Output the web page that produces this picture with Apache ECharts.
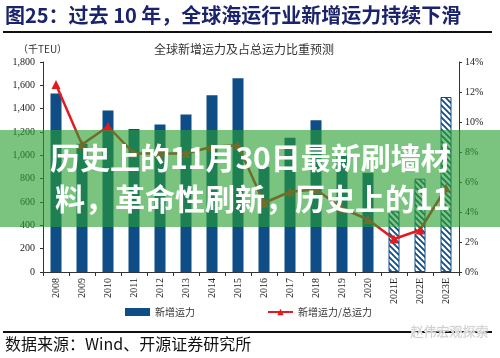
<!DOCTYPE html>
<html><head><meta charset="utf-8">
<script src="https://cdn.jsdelivr.net/npm/echarts@6/dist/echarts.min.js"></script>
<style>html,body{margin:0;padding:0;background:#fff}#c{width:500px;height:358px}</style>
</head><body><div id="c"></div>
<script>
const categories = ['2008','2009','2010','2011','2012','2013','2014','2015','2016','2017','2018','2019','2020','2021E','2022E','2023E'];
const newCapacity = [1530,1100,1385,1225,1265,1350,1515,1660,900,1150,1300,1000,850,520,800,1500];
const capacityRatio = [12.5,8.5,9.7,7.9,7.9,7.9,8.35,8.45,4.6,5.35,5.5,4.25,3.5,2.2,2.8,5.6];
const forecastFrom = 13;
const leftTicks = {min:0,max:1800,interval:200};
const rightTicks = {min:0,max:14,interval:2};

const BLUE = '#0f4d86';
const RED = '#e31b1f';

// hatch pattern
const pc = document.createElement('canvas');
pc.width = 6; pc.height = 6;
const px = pc.getContext('2d');
px.fillStyle = '#fff'; px.fillRect(0,0,6,6);
px.strokeStyle = BLUE; px.lineWidth = 1.8;
px.beginPath();
for (let k=-6;k<=6;k+=6){ px.moveTo(k-1,-1); px.lineTo(k+7,7); }
px.stroke();

const barData = newCapacity.map((v,i)=> i>=forecastFrom ? {value:v,itemStyle:{color:{image:pc,repeat:'repeat'},borderColor:BLUE,borderWidth:1}} : v);

const chart = echarts.init(document.getElementById('c'));
const serif = '"Liberation Serif","Times New Roman",serif';
const cjk = '"Noto Sans CJK SC",sans-serif';
chart.setOption({
  animation:false,
  grid:{left:43,right:41,top:62,bottom:86},
  legend:{
    bottom:36,left:120,itemGap:72,itemWidth:25,itemHeight:8,
    textStyle:{fontFamily:cjk,fontSize:10,color:'#333'},
    data:[{name:'新增运力',icon:'rect'},{name:'新增运力/总运力'}]
  },
  xAxis:{
    type:'category',data:categories,
    axisLine:{lineStyle:{color:'#333'}},
    axisTick:{show:true,length:4,inside:false,lineStyle:{color:'#333'}},
    axisLabel:{rotate:90,fontFamily:serif,fontSize:10,color:'#222',margin:6}
  },
  yAxis:[
    {type:'value',min:leftTicks.min,max:leftTicks.max,interval:leftTicks.interval,
     splitLine:{show:false},axisLine:{show:true,lineStyle:{color:'#333'}},
     axisTick:{show:true,length:3,lineStyle:{color:'#333'}},
     axisLabel:{fontFamily:serif,fontSize:10,color:'#222',margin:8,
       formatter:v=>v.toLocaleString('en-US')}},
    {type:'value',min:rightTicks.min,max:rightTicks.max,interval:rightTicks.interval,
     splitLine:{show:false},axisLine:{show:true,lineStyle:{color:'#333'}},
     axisTick:{show:true,length:3,lineStyle:{color:'#333'}},
     axisLabel:{fontFamily:serif,fontSize:10,color:'#222',margin:6,formatter:'{value}%'}}
  ],
  series:[
    {name:'新增运力',type:'bar',data:barData,barWidth:11,itemStyle:{color:BLUE},z:2},
    {name:'新增运力/总运力',type:'line',yAxisIndex:1,data:capacityRatio,
     lineStyle:{color:RED,width:2.5},itemStyle:{color:RED},
     symbol:'triangle',symbolSize:9,z:3}
  ],
  graphic:[
    {type:'text',left:5,top:5,style:{text:'图25：过去 10 年，全球海运行业新增运力持续下滑',fontFamily:cjk,fontWeight:'bold',fontSize:20,fill:'#1a236b'}},
    {type:'rect',shape:{x:3,y:31,width:489,height:2},style:{fill:'#111'}},
    {type:'text',left:18,top:44,style:{text:'（千TEU）',fontFamily:cjk,fontSize:10,fill:'#333'}},
    {type:'text',left:154,top:43,style:{text:'全球新增运力及占总运力比重预测',fontFamily:cjk,fontSize:12,fill:'#333'}},
    {type:'rect',shape:{x:3,y:331,width:489,height:2},style:{fill:'#111'}},
    {type:'text',left:5,top:336,style:{text:'数据来源：Wind、开源证券研究所',fontFamily:cjk,fontSize:16,fill:'#111'}},
    {type:'text',left:410,top:324,z:50,style:{text:'赵伟宏观探索',fontFamily:cjk,fontSize:13,fill:'#d0d0d0',stroke:'#f4f4f4',lineWidth:1}},
    {type:'rect',z:100,shape:{x:0,y:130,width:500,height:97},style:{fill:'rgba(40,160,50,0.62)'}},
    {type:'text',z:101,left:50,top:143,style:{text:'历史上的11月30日最新刷墙材',fontFamily:cjk,fontWeight:'bold',fontSize:30,fill:'#fff',shadowColor:'rgba(0,0,0,0.25)',shadowBlur:2}},
    {type:'text',z:101,left:55,top:184,style:{text:'料，革命性刷新，历史上的11',fontFamily:cjk,fontWeight:'bold',fontSize:30,fill:'#fff',shadowColor:'rgba(0,0,0,0.25)',shadowBlur:2}}
  ]
});
</script></body></html>
